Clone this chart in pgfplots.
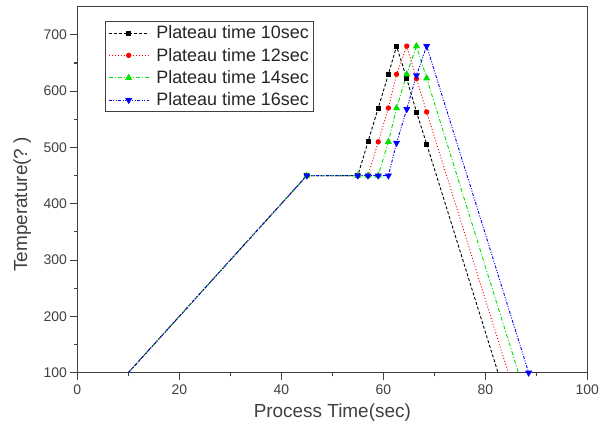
\documentclass[border=0pt]{standalone}
\usepackage{pgfplots}
\pgfplotsset{compat=1.18}
\usepackage{fontspec}
\setmainfont{Liberation Sans}
\definecolor{FrameColor}{HTML}{404040}
\definecolor{LineBlack}{HTML}{000000}
\definecolor{LineRed}{HTML}{FF0000}
\definecolor{LineGreen}{HTML}{00E000}
\definecolor{LineBlue}{HTML}{0000FF}

\begin{document}
\begin{tikzpicture}
    % fixes the page to 613 x 430
    \path (-77.3bp,-57.3bp) rectangle (535.7bp,372.7bp);
    \begin{axis}[
        at={(0,0)},
        anchor=south west,
        scale only axis,
        width=510bp,
        height=366bp,
        xmin=0, xmax=100,
        ymin=100, ymax=750,
        xtick={0,20,40,60,80,100},
        minor xtick={10,30,50,70,90},
        ytick={100,200,300,400,500,600,700},
        minor ytick={150,250,350,450,550,650},
        tick pos=left,
        tick align=outside,
        major tick length=7bp,
        minor tick length=3.5bp,
        axis line style={FrameColor, line width=1.3pt},
        tick style={FrameColor, line width=1.1pt},
        /pgf/number format/assume math mode=true,
        ticklabel style={font=\fontsize{14}{16}\selectfont, text=black!75},
        xticklabel style={yshift=-2bp},
        xlabel={Process Time(sec)},
        ylabel={Temperature(?~)},
        label style={font=\fontsize{19}{22}\selectfont, text=black!75},
        xlabel style={at={(axis description cs:0.5,-0.109)}, anchor=center},
        ylabel style={at={(axis description cs:-0.108,0.46)}, anchor=center},
        legend cell align=left,
        legend image code/.code={
            \draw[mark indices={2}]
            plot coordinates {(0bp,0bp) (20bp,0bp) (40bp,0bp)};
        },
        legend style={
            at={(axis description cs:0.0537,0.961)},
            anchor=north west,
            draw=FrameColor,
            line width=1.1pt,
            font=\fontsize{18}{20}\selectfont,
            inner xsep=3bp,
            inner ysep=3bp,
            row sep=5.5bp,
            nodes={inner sep=1.2bp, text=black!85},
            /tikz/every odd column/.append style={column sep=6bp}
        }
    ]

    % black, plateau 10 s
    \addplot[
        color=LineBlack,
        line width=0.9pt,
        dash pattern=on 3bp off 2bp,
        mark=square*,
        mark size=2bp,
        mark options={solid},
        mark indices={2,3,4,5,6,7,8,9,10}
    ] coordinates {
        (10,100) (45,450) (55,450) (57,510) (59,570) (61,630)
        (62.6,680) (64.6,622) (66.5,563) (68.5,506) (82.5,100)
    };
    \addlegendentry{Plateau time 10sec}

    % red, plateau 12 s
    \addplot[
        color=LineRed,
        line width=0.9pt,
        dash pattern=on 1bp off 2bp,
        mark=*,
        mark size=2.2bp,
        mark options={solid},
        mark indices={2,3,4,5,6,7,8,9,10}
    ] coordinates {
        (10,100) (45,450) (55,450) (57,450) (59,510) (61,570)
        (62.6,630) (64.6,680) (66.5,622) (68.5,563) (84.5,100)
    };
    \addlegendentry{Plateau time 12sec}

    % green, plateau 14 s
    \addplot[
        color=LineGreen,
        line width=0.9pt,
        dash pattern=on 4bp off 2bp on 1bp off 2bp,
        mark=triangle*,
        mark size=3.2bp,
        mark options={solid},
        mark indices={2,3,4,5,6,7,8,9,10}
    ] coordinates {
        (10,100) (45,450) (55,450) (57,450) (59,450) (61,510)
        (62.6,570) (64.6,630) (66.5,680) (68.5,623) (86.5,100)
    };
    \addlegendentry{Plateau time 14sec}

    % blue, plateau 16 s
    \addplot[
        color=LineBlue,
        line width=0.9pt,
        dash pattern=on 3bp off 1.5bp on 1bp off 1.5bp on 1bp off 1.5bp,
        mark=triangle*,
        mark size=3.2bp,
        mark options={solid, rotate=180},
        mark indices={2,3,4,5,6,7,8,9,10,11}
    ] coordinates {
        (10,100) (45,450) (55,450) (57,450) (59,450) (61,450)
        (62.6,508) (64.6,568) (66.5,628) (68.5,680) (88.5,100)
    };
    \addlegendentry{Plateau time 16sec}

    \end{axis}
\end{tikzpicture}
\end{document}
